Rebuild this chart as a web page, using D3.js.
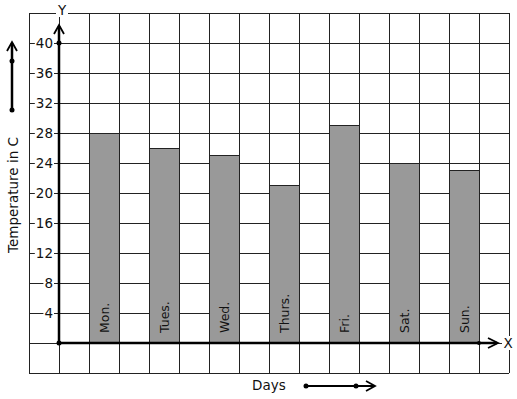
<!DOCTYPE html>
<html>
<head>
<meta charset="utf-8">
<script src="https://cdn.jsdelivr.net/npm/d3@7"></script>
<style>
  body { margin: 0; background: #fff; }
  text { font-family: "DejaVu Sans", sans-serif; fill: #111; }
</style>
</head>
<body>
<script>
// chart data
var days = ['Mon.', 'Tues.', 'Wed.', 'Thurs.', 'Fri.', 'Sat.', 'Sun.'];
var temps = [28, 26, 25, 21, 29, 24, 23];
var yTicks = [4, 8, 12, 16, 20, 24, 28, 32, 36, 40];

var W = 517, H = 399;
var svg = d3.select('body').append('svg').attr('width', W).attr('height', H);

// grid columns: -1..15, the y axis sits on column 0
var x = d3.scaleLinear().domain([-1, 15]).range([29, 509]);
var y = d3.scaleLinear().domain([-4, 44]).range([373, 13]);

var grid = svg.append('g').attr('stroke', '#222').attr('stroke-width', 1)
  .attr('shape-rendering', 'crispEdges');
d3.range(-1, 16).forEach(function(c) {
  grid.append('line')
    .attr('x1', x(c)).attr('x2', x(c))
    .attr('y1', y(44)).attr('y2', y(-4));
});
d3.range(-4, 45, 4).forEach(function(v) {
  grid.append('line')
    .attr('x1', x(-1)).attr('x2', x(15))
    .attr('y1', y(v)).attr('y2', y(v));
});

// bars
var bars = svg.append('g');
days.forEach(function(d, i) {
  var x0 = x(1 + 2 * i), x1 = x(2 + 2 * i);
  bars.append('rect')
    .attr('x', x0).attr('y', y(temps[i]))
    .attr('width', x1 - x0).attr('height', y(0) - y(temps[i]))
    .attr('fill', '#999').attr('stroke', '#222').attr('stroke-width', 1)
    .attr('shape-rendering', 'crispEdges');
  bars.append('text')
    .attr('transform', 'translate(' + ((x0 + x1) / 2 + 4.5) + ',' + (y(0) - 10) + ') rotate(-90)')
    .attr('font-size', 12.5)
    .text(d);
});

// y tick labels with white background
var ticks = svg.append('g');
yTicks.forEach(function(v) {
  var t = ticks.append('text')
    .attr('x', 53).attr('y', y(v) + 5)
    .attr('text-anchor', 'end')
    .attr('font-size', 13.5)
    .text(v);
  var b = t.node().getBBox();
  ticks.insert('rect', 'text')
    .attr('x', b.x - 1).attr('y', b.y + 2).attr('width', b.width + 2).attr('height', b.height - 3)
    .attr('fill', '#fff');
});

// axes
var ax = svg.append('g').attr('stroke', '#000').attr('fill', 'none');
ax.append('line').attr('x1', x(0)).attr('x2', x(0)).attr('y1', y(0)).attr('y2', 26).attr('stroke-width', 2.5);
ax.append('path').attr('d', 'M' + (x(0) - 5) + ',34 L' + x(0) + ',25 L' + (x(0) + 5) + ',34').attr('stroke-width', 1.8);
ax.append('line').attr('x1', x(0)).attr('x2', 497).attr('y1', y(0)).attr('y2', y(0)).attr('stroke-width', 2.5);
ax.append('path').attr('d', 'M488,' + (y(0) - 5) + ' L498,' + y(0) + ' L488,' + (y(0) + 5)).attr('stroke-width', 1.8);
svg.append('circle').attr('cx', x(0)).attr('cy', y(0)).attr('r', 2.5).attr('fill', '#000');
svg.append('circle').attr('cx', x(0)).attr('cy', y(40)).attr('r', 2.5).attr('fill', '#000');
svg.append('circle').attr('cx', x(14)).attr('cy', y(0)).attr('r', 2).attr('fill', '#000');

// axis letters
svg.append('rect').attr('x', 56).attr('y', 3).attr('width', 12).attr('height', 14).attr('fill', '#fff');
svg.append('text').attr('x', 62).attr('y', 15).attr('text-anchor', 'middle').attr('font-size', 13.5).text('Y');
svg.append('rect').attr('x', 502).attr('y', 336).attr('width', 12).attr('height', 14).attr('fill', '#fff');
svg.append('text').attr('x', 508).attr('y', y(0) + 5).attr('text-anchor', 'middle').attr('font-size', 13.5).text('X');

// axis titles
svg.append('text')
  .attr('transform', 'translate(18,' + 195 + ') rotate(-90)')
  .attr('text-anchor', 'middle').attr('font-size', 13.5)
  .text('Temperature in C');
svg.append('text').attr('x', 252).attr('y', 390).attr('font-size', 13.5).text('Days');

// side arrows
var sa = svg.append('g').attr('stroke', '#000').attr('fill', 'none');
sa.append('line').attr('x1', 12).attr('x2', 12).attr('y1', 110).attr('y2', 43).attr('stroke-width', 2.5);
sa.append('path').attr('d', 'M7,51 L12,42 L17,51').attr('stroke-width', 1.8);
svg.append('circle').attr('cx', 12).attr('cy', 61).attr('r', 2.5).attr('fill', '#000');
svg.append('circle').attr('cx', 12).attr('cy', 110).attr('r', 2.5).attr('fill', '#000');
sa.append('line').attr('x1', 306).attr('x2', 374).attr('y1', 386).attr('y2', 386).attr('stroke-width', 2);
sa.append('path').attr('d', 'M366,381 L375,386 L366,391').attr('stroke-width', 1.8);
svg.append('circle').attr('cx', 306).attr('cy', 386).attr('r', 2.5).attr('fill', '#000');
svg.append('circle').attr('cx', 356).attr('cy', 386).attr('r', 2.5).attr('fill', '#000');
</script>
</body>
</html>
